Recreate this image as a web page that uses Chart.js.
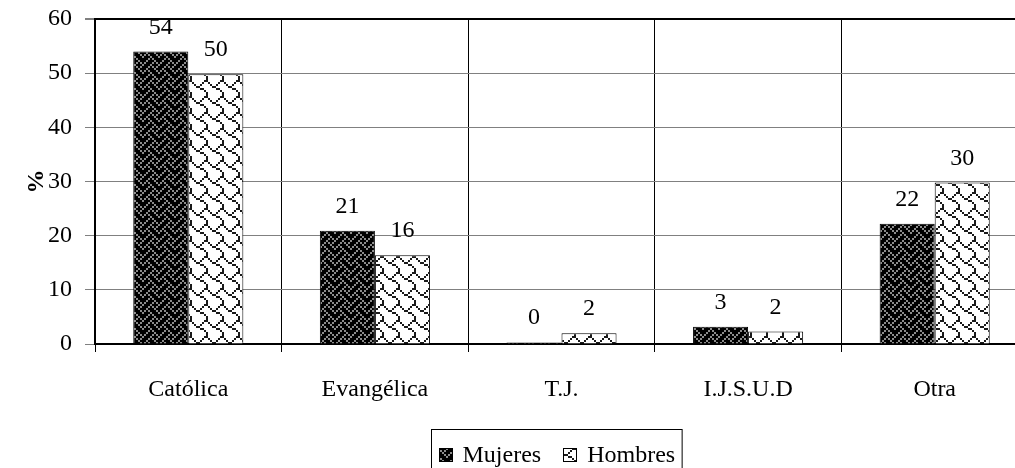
<!DOCTYPE html>
<html>
<head>
<meta charset="utf-8">
<script src="https://cdn.jsdelivr.net/npm/chart.js@4/dist/chart.umd.min.js"></script>
<style>
  html, body { margin: 0; padding: 0; background: #fff; overflow: hidden; }
  #wrap { width: 1015px; height: 468px; overflow: hidden; position: relative; }
  canvas { display: block; }
</style>
</head>
<body>
<div id="wrap"><canvas id="c" width="1040" height="468"></canvas></div>
<script>
// Religious affiliation by sex (%)
const categories = ['Católica', 'Evangélica', 'T.J.', 'I.J.S.U.D', 'Otra'];
const mujeres = [54.0, 20.9, 0.3, 3.2, 22.2];
const hombres = [49.8, 16.4, 2.0, 2.3, 29.8];
const seriesNames = ['Mujeres', 'Hombres'];
const yTicks = [0, 10, 20, 30, 40, 50, 60];

const FONT = '"Liberation Serif", "Times New Roman", serif';

// 8x8 bitmaps, drawn at 2x into 16px pattern tiles
const weaveBits = [0x11, 0x2a, 0x44, 0xa2, 0x11, 0x28, 0x44, 0x8a];
const shingleBits = [0x03, 0x84, 0x48, 0x30, 0x0c, 0x02, 0x01, 0x01];

function makePattern(bits, bg, fg) {
  const t = document.createElement('canvas');
  t.width = 16; t.height = 16;
  const g = t.getContext('2d');
  g.fillStyle = bg;
  g.fillRect(0, 0, 16, 16);
  g.fillStyle = fg;
  for (let r = 0; r < 8; r++) {
    for (let c = 0; c < 8; c++) {
      if (bits[r] & (0x80 >> c)) g.fillRect(c * 2, r * 2, 2, 2);
    }
  }
  return g.createPattern(t, 'repeat');
}

const ctx0 = document.getElementById('c').getContext('2d');
const darkFill = makePattern(weaveBits, '#000000', '#8c8c8c');
const lightFill = makePattern(shingleBits, '#ffffff', '#1a1a1a');

// Values printed above each bar
const valueLabels = {
  id: 'valueLabels',
  afterDatasetsDraw(chart) {
    const ctx = chart.ctx;
    ctx.save();
    ctx.font = '24px ' + FONT;
    ctx.fillStyle = '#000';
    ctx.textAlign = 'center';
    ctx.textBaseline = 'alphabetic';
    chart.data.datasets.forEach((ds, i) => {
      chart.getDatasetMeta(i).data.forEach((bar, j) => {
        ctx.fillText(String(Math.round(ds.data[j])), bar.x, bar.y - 18);
      });
    });
    ctx.restore();
  }
};

// Boxed legend under the category labels
const boxedLegend = {
  id: 'boxedLegend',
  afterDraw(chart) {
    const ctx = chart.ctx;
    const area = chart.chartArea;
    ctx.save();
    ctx.font = '24px ' + FONT;
    const sw = 14, gapText = 10, gapItem = 22, pad = 7;
    const items = chart.data.datasets.map(ds => ({
      label: ds.label, fill: ds.backgroundColor, w: ctx.measureText(ds.label).width
    }));
    let total = pad * 2;
    items.forEach((it, k) => { total += sw + gapText + it.w + (k ? gapItem : 0); });
    const cx = (area.left + area.right) / 2 - 5;
    const left = Math.round(cx - total / 2) + 0.5;
    const top = 429.5;
    ctx.strokeStyle = '#000';
    ctx.lineWidth = 1;
    ctx.strokeRect(left, top, total, 60);
    let x = left + pad;
    const midY = 455;
    items.forEach((it, k) => {
      if (k) x += gapItem;
      ctx.fillStyle = it.fill;
      ctx.fillRect(Math.round(x), midY - 7, sw, sw);
      ctx.strokeRect(Math.round(x) + 0.5, midY - 7 + 0.5, sw - 1, sw - 1);
      x += sw + gapText;
      ctx.fillStyle = '#000';
      ctx.textAlign = 'left';
      ctx.textBaseline = 'middle';
      ctx.fillText(it.label, x, midY + 1);
      x += it.w;
    });
    ctx.restore();
  }
};

new Chart(ctx0, {
  type: 'bar',
  data: {
    labels: categories,
    datasets: [
      { label: seriesNames[0], data: mujeres, backgroundColor: darkFill, borderColor: '#000', borderWidth: 1 },
      { label: seriesNames[1], data: hombres, backgroundColor: lightFill, borderColor: '#000', borderWidth: 1 }
    ]
  },
  options: {
    responsive: false,
    animation: false,
    events: [],
    layout: { padding: { top: 19, right: 12, bottom: 0, left: 0 } },
    datasets: { bar: { categoryPercentage: 0.59, barPercentage: 1.0 } },
    plugins: { legend: { display: false }, tooltip: { enabled: false } },
    scales: {
      x: {
        offset: true,
        grid: { offset: true, color: '#000', lineWidth: 1, tickLength: 8, tickColor: '#000', drawOnChartArea: true },
        border: { display: true, color: '#000', width: 2 },
        ticks: { font: { family: FONT, size: 24 }, color: '#000', padding: 23, maxRotation: 0, autoSkip: false },
        afterFit(scale) { scale.height = 124; scale.paddingLeft = 0; scale.paddingRight = 0; }
      },
      y: {
        min: yTicks[0],
        max: yTicks[yTicks.length - 1],
        afterBuildTicks(scale) { scale.ticks = yTicks.map(v => ({ value: v })); },
        grid: {
          color: c => (c.tick && c.tick.value === 60 ? '#000' : '#808080'),
          lineWidth: c => (c.tick && c.tick.value === 60 ? 2 : 1),
          tickLength: 10,
          tickColor: '#808080'
        },
        border: { display: true, color: '#000', width: 2 },
        ticks: { font: { family: FONT, size: 24 }, color: '#000', padding: 13 },
        title: { display: true, text: '%', font: { family: FONT, size: 24, weight: 'bold' }, color: '#000', padding: { top: 22, bottom: 0 } },
        afterFit(scale) { scale.width = 95; scale.paddingTop = 0; scale.paddingBottom = 0; }
      }
    }
  },
  plugins: [valueLabels, boxedLegend]
});
</script>
</body>
</html>
